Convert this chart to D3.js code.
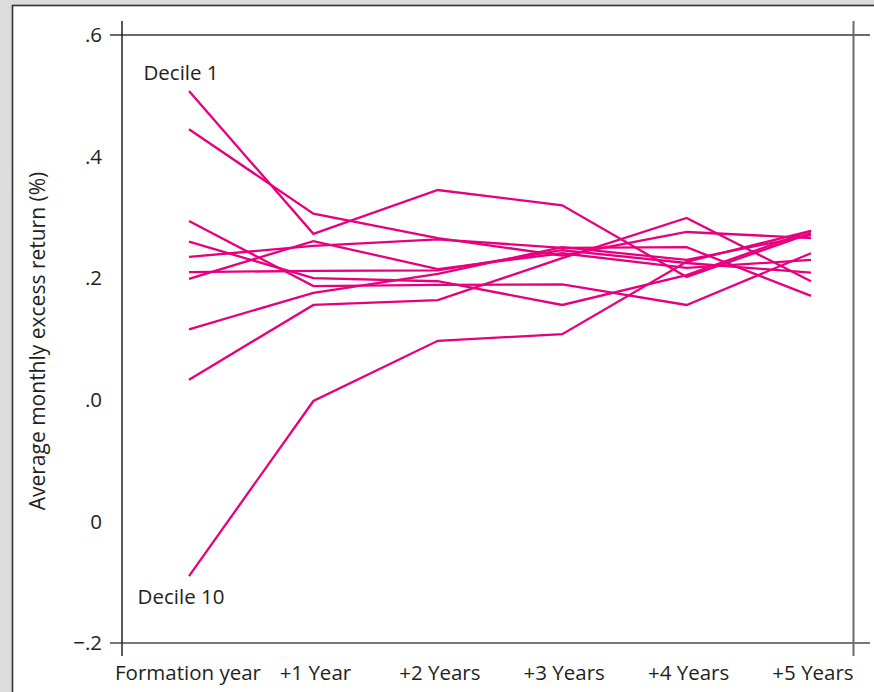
<!DOCTYPE html>
<html>
<head>
<meta charset="utf-8">
<script src="https://cdn.jsdelivr.net/npm/d3@7/dist/d3.min.js"></script>
<style>
  html, body { margin: 0; padding: 0; background: #dcdcdc; }
  svg { display: block; }
  text { font-family: "Open Sans", "Noto Sans", sans-serif; fill: #231f20; }
</style>
</head>
<body>
<svg id="chart" width="874" height="692"></svg>
<script>
// ---- data ----
const categories = ["Formation year", "+1 Year", "+2 Years", "+3 Years", "+4 Years", "+5 Years"];
const yTickValues = [0.6, 0.4, 0.2, 0.0, -0.2, -0.4];
const yTickLabels = [".6", ".4", ".2", ".0", "0", "\u2212.2"];
const seriesNames = ["Decile 1", "D2", "D3", "D4", "D5", "D6", "D7", "D8", "D9", "Decile 10"];
const decile1  = [0.508, 0.273, 0.345, 0.320, 0.202, 0.274];
const series2  = [0.445, 0.306, 0.266, 0.237, 0.276, 0.266];
const series3  = [0.294, 0.187, 0.189, 0.190, 0.156, 0.241];
const series4  = [0.260, 0.200, 0.195, 0.156, 0.205, 0.278];
const series5  = [0.235, 0.253, 0.264, 0.250, 0.251, 0.171];
const series6  = [0.210, 0.212, 0.213, 0.246, 0.225, 0.209];
const series7  = [0.199, 0.261, 0.215, 0.241, 0.217, 0.230];
const series8  = [0.116, 0.176, 0.207, 0.251, 0.230, 0.271];
const series9  = [0.033, 0.156, 0.164, 0.233, 0.299, 0.195];
const decile10 = [-0.290, -0.002, 0.097, 0.108, 0.227, 0.278];
const allSeries = [decile1, series2, series3, series4, series5, series6, series7, series8, series9, decile10];

(function () {
  const svg = d3.select("#chart");
  const W = 874, H = 692;
  const lineColor = "#e6007e";
  const fs = 20.5;

  svg.append("rect").attr("x", 12.5).attr("y", 5.5).attr("width", W).attr("height", H)
    .attr("fill", "#ffffff").attr("stroke", "#333333").attr("stroke-width", 1.6);

  const x = d3.scalePoint().domain(categories).range([189, 811]);
  const y = d3.scaleLinear().domain([-0.4, 0.6]).range([643, 35]);

  const leftX = 122, rightX = 853.5;
  const topY = y(0.6), bottomY = y(-0.4);

  const frame = svg.append("g").attr("fill", "none");
  frame.append("line").attr("x1", 110).attr("x2", 870).attr("y1", topY).attr("y2", topY)
    .attr("stroke", "#6a6a6a").attr("stroke-width", 2);
  frame.append("line").attr("x1", 110).attr("x2", 870).attr("y1", bottomY).attr("y2", bottomY)
    .attr("stroke", "#4a4a4a").attr("stroke-width", 1.5);
  frame.append("line").attr("x1", leftX).attr("x2", leftX).attr("y1", 21).attr("y2", 656)
    .attr("stroke", "#222").attr("stroke-width", 1.5);
  frame.append("line").attr("x1", rightX).attr("x2", rightX).attr("y1", 21).attr("y2", 656)
    .attr("stroke", "#6a6a6a").attr("stroke-width", 2);

  svg.append("g").selectAll("text").data(yTickValues).join("text")
    .attr("x", 102).attr("y", d => y(d)).attr("dy", "0.35em")
    .attr("text-anchor", "end").attr("font-size", fs)
    .text((d, i) => yTickLabels[i]);

  svg.append("g").selectAll("text").data(categories).join("text")
    .attr("x", d => x(d) + (d === categories[0] ? -1 : 2)).attr("y", 680)
    .attr("text-anchor", "middle").attr("font-size", fs)
    .text(d => d);

  svg.append("text")
    .attr("transform", `translate(45, 341) rotate(-90)`)
    .attr("text-anchor", "middle").attr("font-size", 21)
    .text("Average monthly excess return (%)");

  const line = d3.line().x((d, i) => x(categories[i])).y(d => y(d));
  svg.append("g").selectAll("path").data(allSeries).join("path")
    .attr("d", line).attr("fill", "none")
    .attr("stroke", lineColor).attr("stroke-width", 2.3)
    .attr("stroke-linejoin", "miter");

  svg.append("text").attr("x", x(categories[0]) - 8).attr("y", y(decile1[0]) - 11)
    .attr("text-anchor", "middle").attr("font-size", fs).text("Decile 1");
  svg.append("text").attr("x", x(categories[0]) - 8).attr("y", y(decile10[0]) + 28)
    .attr("text-anchor", "middle").attr("font-size", fs).text("Decile 10");
})();
</script>
</body>
</html>
